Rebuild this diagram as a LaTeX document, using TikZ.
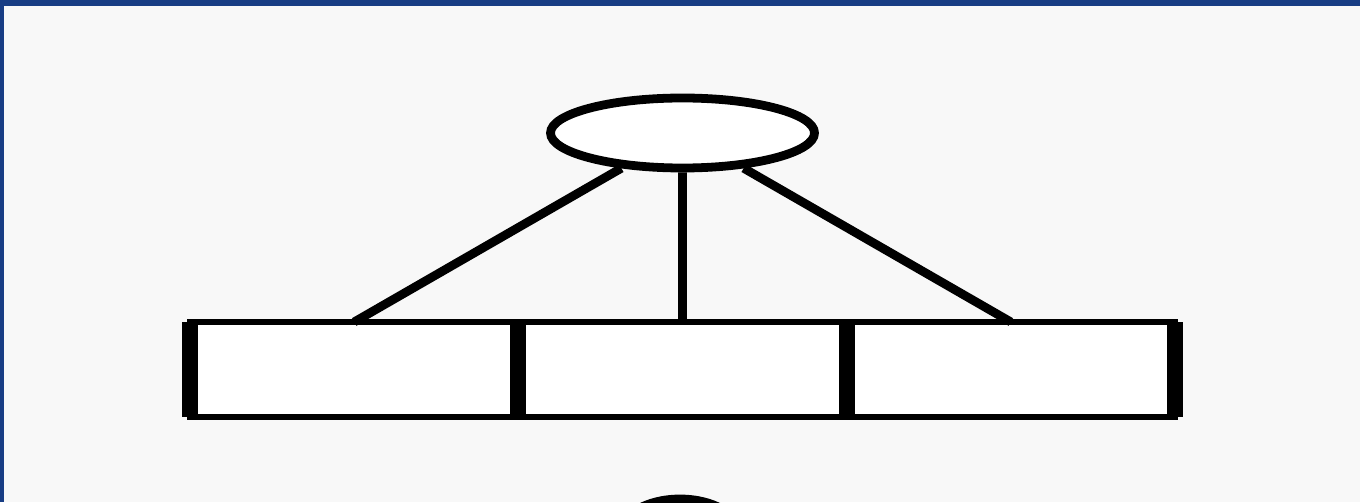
\documentclass[tikz,border=0pt]{standalone}
\usepackage{tikz}
\usetikzlibrary{positioning}
\usetikzlibrary{shapes.geometric}
\definecolor{frameblue}{RGB}{24,61,132}
\definecolor{paper}{RGB}{248,248,248}
\tikzset{
  hub/.style={draw, ellipse, fill=white, line width=5pt, inner sep=0pt,
    minimum width=5.28cm, minimum height=1.40cm},
  cell/.style={draw, rectangle, fill=white, line width=3.4pt, inner sep=0pt,
    outer sep=0pt, minimum width=6.567cm, minimum height=1.90cm},
  spoke/.style={line width=5pt},
  wall/.style={line width=9pt}
}

\begin{document}
\begin{tikzpicture}[yscale=1.0]
  \useasboundingbox (0.00, 0.00) rectangle (27.20, 10.04);
  \clip (0.00, 0.00) rectangle (27.20, 10.04);
  \fill[paper] (0.00, 0.00) rectangle (27.20, 10.04);
  % top level
  \node[hub] (hub) at (13.65, 7.38) {};
  % row of three cells
  \node[cell] (cellA) at (7.083, 2.65) {};
  \node[cell, right=0pt of cellA] (cellB) {};
  \node[cell, right=0pt of cellB] (cellC) {};
  \foreach \w in {cellA.west, cellA.east, cellB.east, cellC.east}
    \draw[wall] (\w |- cellA.north) -- (\w |- cellA.south);
  \draw[spoke] (hub) -- (cellA.north);
  \draw[spoke] (hub) -- (cellB.north);
  \draw[spoke] (hub) -- (cellC.north);
  % next level, cut off at the bottom
  \node[hub, minimum width=2.4cm, minimum height=1.4cm] (foot) at (13.60, -0.64) {};
  % frame
  \fill[frameblue] (0.00, 9.92) rectangle (27.20, 10.04);
  \fill[frameblue] (0.00, 0.00) rectangle (0.08, 10.04);
\end{tikzpicture}
\end{document}
